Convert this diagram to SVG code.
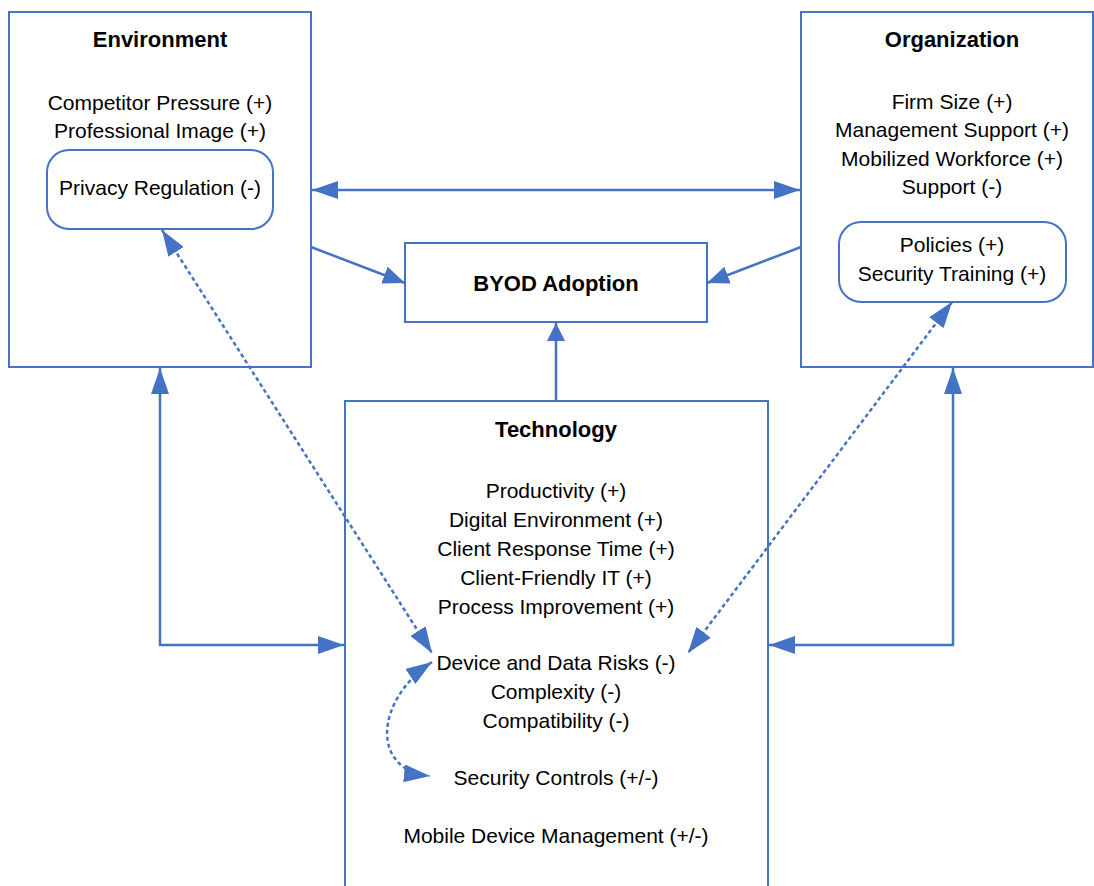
<svg xmlns="http://www.w3.org/2000/svg" width="1094" height="886" viewBox="0 0 1094 886">
<style>
.box{fill:#fff;stroke:#4472C4;stroke-width:2}
.t{font-family:"Liberation Sans",Arial,sans-serif;font-size:21px;fill:#000;text-anchor:middle}
.b{font-family:"Liberation Sans",Arial,sans-serif;font-size:22px;font-weight:bold;fill:#000;text-anchor:middle}
.c{fill:none;stroke:#4472C4;stroke-width:2.5}
.d{fill:none;stroke:#4472C4;stroke-width:2.5;stroke-dasharray:4 3}
</style>
<defs>
<marker id="ah" markerUnits="userSpaceOnUse" markerWidth="26" markerHeight="18" refX="26" refY="9" orient="auto-start-reverse"><path d="M0,0 L26,9 L0,18 z" fill="#4472C4"/></marker>
<marker id="am" markerUnits="userSpaceOnUse" markerWidth="22" markerHeight="18" refX="22" refY="9" orient="auto-start-reverse"><path d="M0,0 L22,9 L0,18 z" fill="#4472C4"/></marker>
<marker id="as" markerUnits="userSpaceOnUse" markerWidth="18" markerHeight="18" refX="18" refY="9" orient="auto-start-reverse"><path d="M0,0 L18,9 L0,18 z" fill="#4472C4"/></marker>
</defs>
<rect width="1094" height="886" fill="#fff"/>
<g id="environment">
<rect class="box" x="9" y="12" width="302" height="355"/>
<text class="b" x="160" y="47">Environment</text>
<text class="t" x="160" y="110">Competitor Pressure (+)</text>
<text class="t" x="160" y="138">Professional Image (+)</text>
</g>
<g id="privacy">
<rect class="box" x="47" y="150" width="226" height="79" rx="22"/>
<text class="t" x="160" y="195">Privacy Regulation (-)</text>
</g>
<g id="organization">
<rect class="box" x="801" y="12" width="292" height="355"/>
<text class="b" x="952" y="47">Organization</text>
<text class="t" x="952" y="109">Firm Size (+)</text>
<text class="t" x="952" y="137">Management Support (+)</text>
<text class="t" x="952" y="166">Mobilized Workforce (+)</text>
<text class="t" x="952" y="194">Support (-)</text>
</g>
<g id="policies">
<rect class="box" x="839" y="222" width="227" height="80" rx="22"/>
<text class="t" x="952" y="252">Policies (+)</text>
<text class="t" x="952" y="281">Security Training (+)</text>
</g>
<g id="byod">
<rect class="box" x="405" y="243" width="302" height="79"/>
<text class="b" x="556" y="291">BYOD Adoption</text>
</g>
<g id="technology">
<path class="box" d="M345,886 L345,401 L768,401 L768,886" fill="#fff"/>
<text class="b" x="556" y="437">Technology</text>
<text class="t" x="556" y="498">Productivity (+)</text>
<text class="t" x="556" y="527">Digital Environment (+)</text>
<text class="t" x="556" y="556">Client Response Time (+)</text>
<text class="t" x="556" y="585">Client-Friendly IT (+)</text>
<text class="t" x="556" y="614">Process Improvement (+)</text>
<text class="t" x="556" y="670">Device and Data Risks (-)</text>
<text class="t" x="556" y="699">Complexity (-)</text>
<text class="t" x="556" y="728">Compatibility (-)</text>
<text class="t" x="556" y="785">Security Controls (+/-)</text>
<text class="t" x="556" y="843">Mobile Device Management (+/-)</text>
</g>
<g id="connectors">
<line class="c" x1="312" y1="190" x2="800" y2="190" marker-start="url(#ah)" marker-end="url(#ah)"/>
<line class="c" x1="311" y1="247" x2="405" y2="283" marker-end="url(#am)"/>
<line class="c" x1="801" y1="247" x2="707" y2="283" marker-end="url(#am)"/>
<line class="c" x1="556" y1="401" x2="556" y2="323" marker-end="url(#as)"/>
<polyline class="c" points="160,368 160,645 344,645" marker-start="url(#ah)" marker-end="url(#ah)"/>
<polyline class="c" points="953,368 953,645 769,645" marker-start="url(#ah)" marker-end="url(#ah)"/>
<line class="d" x1="162" y1="230" x2="432" y2="653" marker-start="url(#ah)" marker-end="url(#ah)"/>
<line class="d" x1="952" y1="302" x2="688" y2="653" marker-start="url(#ah)" marker-end="url(#ah)"/>
<path class="d" d="M432,662 C375,700 370,770 430,776" marker-start="url(#ah)" marker-end="url(#ah)"/>
</g>
</svg>
